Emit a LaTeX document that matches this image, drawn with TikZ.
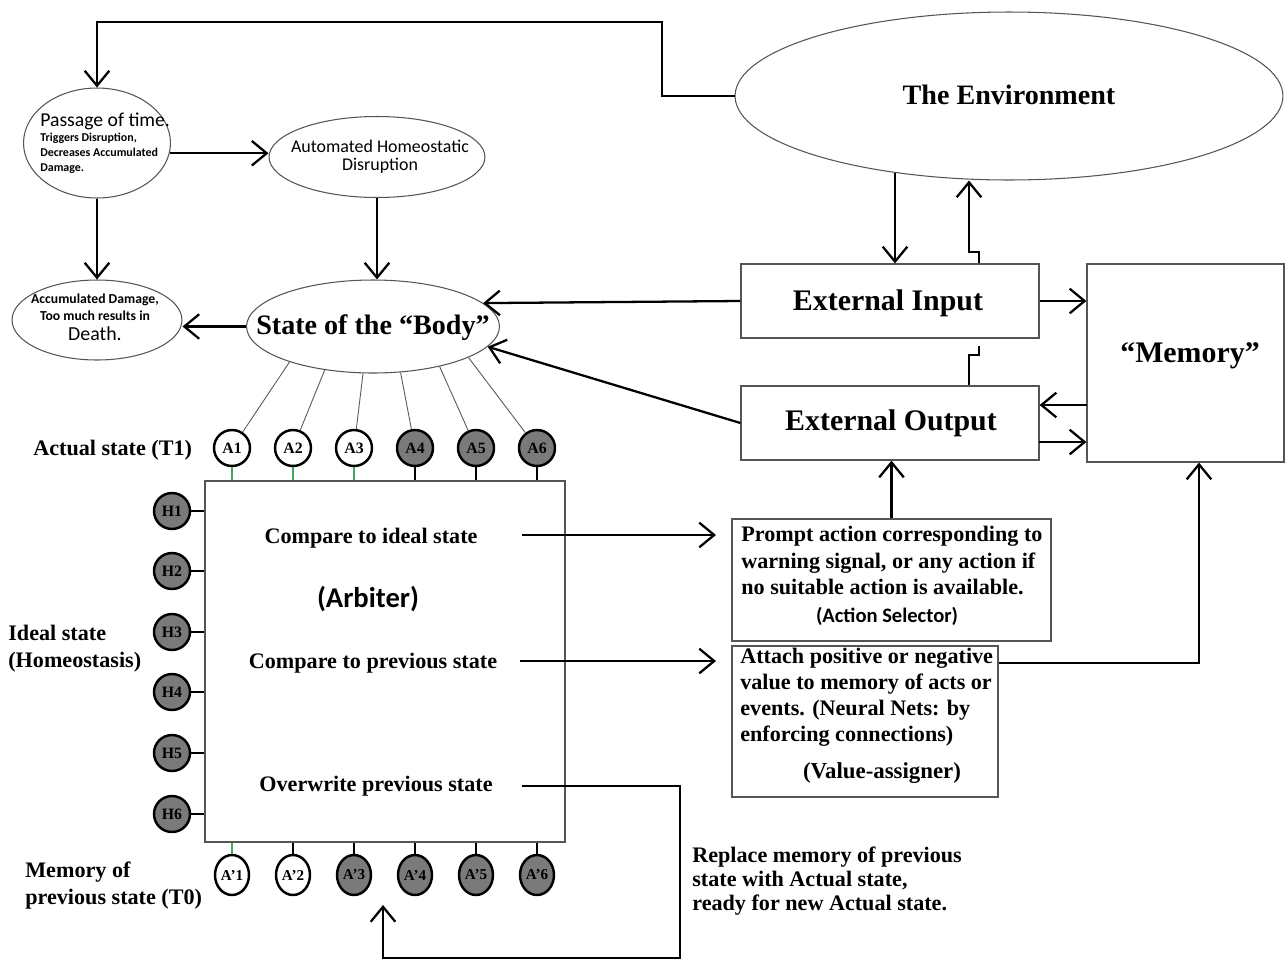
\documentclass[tikz,border=0pt]{standalone}
\usepackage{fontspec}
\setmainfont{Liberation Serif}
\newfontfamily\calibrifont{Carlito}
\usetikzlibrary{arrows.meta,shapes.geometric,calc}
\definecolor{nodegray}{RGB}{122,122,122}
\definecolor{linkgreen}{RGB}{70,165,100}
\definecolor{rimgray}{RGB}{85,85,85}

\begin{document}
\begin{tikzpicture}[x=0.02cm,y=-0.02cm,
  conn/.style={line width=1.3pt,black},
  arr/.style={conn,-{Straight Barb[length=8.5pt,width=14pt]}},
  oval/.style={ellipse,draw=rimgray,line width=0.6pt,inner sep=0pt},
  panel/.style={rectangle,draw=rimgray,line width=0.7pt,inner sep=0pt},
  tb/.style={inner sep=0pt,font=\bfseries\fontsize{12.6}{15}\selectfont},
  big/.style={inner sep=0pt,font=\bfseries\fontsize{16}{19}\selectfont},
  huge/.style={inner sep=0pt,font=\bfseries\fontsize{17}{20}\selectfont},
  sansreg/.style={inner sep=0pt,font=\calibrifont},
  cell/.style={circle,draw,line width=1.4pt,minimum size=0.72cm,inner sep=0pt,
    font=\bfseries\fontsize{9}{10}\selectfont},
  prevcell/.style={ellipse,draw,line width=1.4pt,minimum width=0.68cm,minimum height=0.8cm,
    inner sep=0pt,font=\bfseries\fontsize{8.6}{10}\selectfont},
  spoke/.style={line width=0.5pt,black!65},
  greenlink/.style={line width=1.3pt,linkgreen}]

\useasboundingbox (0,0) rectangle (1285,961);
\fill[white] (0,0) rectangle (1285,961);

% ---------- ellipses ----------
\node[oval,minimum width=10.96cm,minimum height=3.36cm] (env) at (1009,96) {};
\node[big,anchor=base] (envt) at (1009,104) {The Environment};

\node[oval,minimum width=2.94cm,minimum height=2.2cm] (passage) at (97,143) {};
\node[sansreg,anchor=base west,font=\calibrifont\fontsize{11.2}{13}\selectfont] (pt1) at (40,126) {Passage of time.};
\node[sansreg,anchor=base west,font=\calibrifont\bfseries\fontsize{6.8}{8}\selectfont] (pt2) at (40,141) {Triggers Disruption,};
\node[sansreg,anchor=base west,font=\calibrifont\bfseries\fontsize{6.8}{8}\selectfont] (pt3) at (40,156) {Decreases Accumulated};
\node[sansreg,anchor=base west,font=\calibrifont\bfseries\fontsize{6.8}{8}\selectfont] (pt4) at (40,171) {Damage.};

\node[oval,minimum width=4.32cm,minimum height=1.62cm] (auto) at (377,157) {};
\node[sansreg,anchor=base,font=\calibrifont\fontsize{10.2}{12}\selectfont] (at1) at (380,152) {Automated Homeostatic};
\node[sansreg,anchor=base,font=\calibrifont\fontsize{10.2}{12}\selectfont] (at2) at (380,170) {Disruption};

\node[oval,minimum width=3.4cm,minimum height=1.6cm] (accum) at (97,320) {};
\node[sansreg,anchor=base,font=\calibrifont\bfseries\fontsize{7.8}{9}\selectfont] (ac1) at (95,303) {Accumulated Damage,};
\node[sansreg,anchor=base,font=\calibrifont\bfseries\fontsize{7.8}{9}\selectfont] (ac2) at (95,320) {Too much results in};
\node[sansreg,anchor=base,font=\calibrifont\fontsize{11.3}{13}\selectfont] (ac3) at (95,340) {Death.};

\node[oval,minimum width=5.06cm,minimum height=1.86cm] (state) at (373,326.5) {};
\node[big,anchor=base] (stt) at (373,334) {State of the “Body”};

% ---------- boxes ----------
\node[panel,minimum width=5.96cm,minimum height=1.48cm] (inp) at (890,301) {};
\node[huge,anchor=base] (inpt) at (888,310) {External Input};
\node[panel,minimum width=5.96cm,minimum height=1.48cm] (out) at (890,423) {};
\node[huge,anchor=base] (outt) at (891,430) {External Output};
\node[panel,minimum width=3.94cm,minimum height=3.96cm] (mem) at (1185.5,363) {};
\node[huge,anchor=base] (memt) at (1190,362) {“Memory”};

\node[panel,minimum width=6.38cm,minimum height=2.44cm] (act) at (891.5,580) {};
\node[tb,anchor=base west] (as1) at (741,541) {Prompt action corresponding to};
\node[tb,anchor=base west] (as2) at (741,568) {warning signal, or any action if};
\node[tb,anchor=base west] (as3) at (741,594) {no suitable action is available.};
\node[sansreg,anchor=base,font=\calibrifont\bfseries\fontsize{11.7}{14}\selectfont] (as4) at (887,622) {(Action Selector)};

\node[panel,minimum width=5.32cm,minimum height=3.02cm] (val) at (865,721.5) {};
\node[tb,anchor=base west] (va1) at (740,663) {Attach positive or negative};
\node[tb,anchor=base west] (va2) at (740,689) {value to memory of acts or};
\node[tb,anchor=base west] (va3) at (740,715) {events. (Neural Nets: by};
\node[tb,anchor=base west] (va4) at (740,741) {enforcing connections)};
\node[tb,anchor=base,font=\bfseries\fontsize{13}{15}\selectfont] (va5) at (882,778) {(Value-assigner)};

\node[panel,minimum width=7.2cm,minimum height=7.22cm] (arb) at (385,661.5) {};
\node[tb,anchor=base] (cm1) at (371,543) {Compare to ideal state};
\node[sansreg,anchor=base,font=\calibrifont\bfseries\fontsize{16.3}{19}\selectfont] (arbt) at (368,607) {(Arbiter)};
\node[tb,anchor=base] (cm2) at (373,668) {Compare to previous state};
\node[tb,anchor=base] (ovw) at (376,791) {Overwrite previous state};

% ---------- side labels ----------
\node[tb,anchor=base west] (lab1) at (33,455) {Actual state (T1)};
\node[tb,anchor=base west] (lab2) at (8,640) {Ideal state};
\node[tb,anchor=base west] (lab3) at (8,667) {(Homeostasis)};
\node[tb,anchor=base west] (lab4) at (25,877) {Memory of};
\node[tb,anchor=base west] (lab5) at (25,904) {previous state (T0)};
\node[tb,anchor=base west] (rp1) at (692,862) {Replace memory of previous};
\node[tb,anchor=base west] (rp2) at (692,886) {state with Actual state,};
\node[tb,anchor=base west] (rp3) at (692,910) {ready for new Actual state.};

% ---------- actual state cells ----------
\foreach \i/\x/\f/\s in {1/232/white/203,2/293/white/222,3/354/white/258,
                         4/415/nodegray/301,5/476/nodegray/329,6/537/nodegray/342}{
  \node[cell,fill=\f] (A\i) at (\x,448) {A\i};
  \draw[spoke] (A\i) -- (state.\s);
}
\foreach \i in {1,2,3}{\draw[greenlink] (A\i.south) -- (A\i.south |- arb.north);}
\foreach \i in {4,5,6}{\draw[conn] (A\i.south) -- (A\i.south |- arb.north);}

% ---------- ideal state cells ----------
\foreach \i/\y in {1/511,2/571,3/632,4/692,5/753,6/814}{
  \node[cell,fill=nodegray] (H\i) at (172,\y) {H\i};
  \draw[conn] (H\i.east) -- (H\i.east -| arb.west);
}

% ---------- previous state cells ----------
\foreach \i/\x/\f in {1/232/white,2/293/white,3/354/nodegray,4/415/nodegray,5/476/nodegray,6/537/nodegray}{
  \node[prevcell,fill=\f] (P\i) at (\x,875) {A’\i};
}
\draw[greenlink] (P1.north) -- (P1.north |- arb.south);
\foreach \i in {2,...,6}{\draw[conn] (P\i.north) -- (P\i.north |- arb.south);}

% ---------- connectors ----------
\coordinate (t1) at (662,22);
\draw[arr] (env.west) -| (t1) -| (passage.north);
\draw[arr] (passage.-8) -- (passage.-8 -| auto.west);
\draw[arr] (passage.south) -- (accum.north);
\draw[arr] (auto.south) -- (auto.south |- state.north);
\draw[arr] (state.west) -- (state.west -| accum.east);

\draw[arr] (inp.west) -- (state.12);
\draw[arr] (out.west) -- (state.350);
\draw[arr] (inp.east) -- (inp.east -| mem.west);
\coordinate (m2) at (1087,405);
\draw[arr] (m2) -- (m2 -| out.east);
\coordinate (o2) at (1039,442);
\draw[arr] (o2) -- (o2 -| mem.west);

\draw[arr] (env.214) -- (env.214 |- inp.north);
\coordinate (j1) at (979,252);
\coordinate (j2) at (969,252);
\draw[arr] (j1 |- inp.north) -- (j1) -- (j2) -- (j2 |- env.south);
\coordinate (j3) at (969,355);
\coordinate (j4) at (979,346);
\draw[conn] (j3 |- out.north) -- (j3) -| (j4);

\draw[arr] (act.north) -- (act.north |- out.south);
\coordinate (v2) at (1199,663);
\draw[arr] (val.east |- v2) -- (v2) -- (v2 |- mem.south);

\coordinate (c1) at (522,535);
\coordinate (c2) at (716,535);
\draw[arr] (c1) -- (c2);
\coordinate (c3) at (520,661);
\coordinate (c4) at (716,661);
\draw[arr] (c3) -- (c4);

\coordinate (w1) at (522,786);
\coordinate (w2) at (680,958);
\coordinate (w3) at (383,905);
\draw[arr] (w1) -| (w2) -| (w3);

\end{tikzpicture}
\end{document}
